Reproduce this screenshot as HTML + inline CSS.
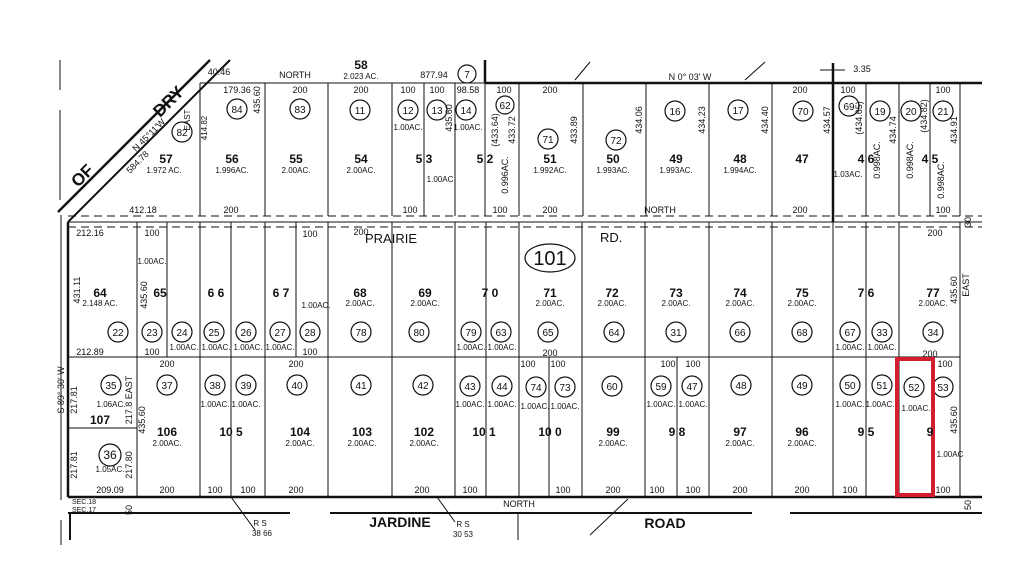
<!DOCTYPE html>
<html><head><meta charset="utf-8"><style>
html,body{margin:0;padding:0;background:#fff}
svg{display:block}
text{font-family:"Liberation Sans",Arial,sans-serif;fill:#111}
.n{font-size:12px;font-weight:bold;text-anchor:middle}
.a{font-size:8px;text-anchor:middle}
.d{font-size:9px;text-anchor:middle}
.s{font-size:5px;text-anchor:middle}
.c{font-size:10px;text-anchor:middle}
</style></head><body>
<svg width="1024" height="586" viewBox="0 0 1024 586" xmlns="http://www.w3.org/2000/svg">
<rect width="1024" height="586" fill="#fff"/>
<g stroke="#111" fill="none">
<line x1="58" y1="212" x2="210" y2="60" stroke-width="2.5"/>
<line x1="68" y1="222" x2="230" y2="60" stroke-width="2"/>
<line x1="60" y1="60" x2="60" y2="90" stroke-width="1"/>
<line x1="60" y1="110" x2="60" y2="200" stroke-width="1"/>
<line x1="61" y1="215" x2="61" y2="500" stroke-width="1"/>
<line x1="61" y1="520" x2="61" y2="545" stroke-width="1"/>
<line x1="200" y1="83" x2="485" y2="83" stroke-width="1"/>
<line x1="485" y1="83" x2="982" y2="83" stroke-width="2.5"/>
<line x1="485" y1="60" x2="485" y2="83" stroke-width="2.5"/>
<line x1="833" y1="63" x2="833" y2="222" stroke-width="2.5"/>
<line x1="820" y1="70" x2="845" y2="70" stroke-width="1"/>
<line x1="68" y1="216" x2="982" y2="216" stroke-width="1" stroke-dasharray="8,5"/>
<line x1="68" y1="222" x2="982" y2="222" stroke-width="1"/>
<line x1="68" y1="227" x2="982" y2="227" stroke-width="1" stroke-dasharray="8,5"/>
<path d="M200 83V216 M265 83V216 M328 83V216 M392 83V216 M424 83V216 M455 83V216 M485 83V216 M519 83V216 M583 83V216 M646 83V216 M709 83V216 M772 83V216 M866 83V216 M899 83V216 M930 83V216 M960 83V216" stroke-width="1"/>
<line x1="68" y1="222" x2="68" y2="497" stroke-width="2.5"/>
<line x1="68" y1="357" x2="960" y2="357" stroke-width="1"/>
<path d="M137 222V497 M167 222V357 M200 222V497 M231 222V497 M265 222V497 M296 222V357 M328 222V497 M392 222V497 M455 222V497 M486 222V497 M519 222V497 M549 357V497 M582 222V497 M645 222V497 M677 357V497 M709 222V497 M772 222V497 M833 222V497 M866 222V497 M899 222V497 M960 222V497" stroke-width="1"/>
<line x1="68" y1="428" x2="137" y2="428" stroke-width="1"/>
<line x1="68" y1="497" x2="982" y2="497" stroke-width="2.5"/>
<line x1="68" y1="513" x2="290" y2="513" stroke-width="2"/>
<line x1="330" y1="513" x2="752" y2="513" stroke-width="2"/>
<line x1="790" y1="513" x2="982" y2="513" stroke-width="2"/>
<line x1="70" y1="513" x2="70" y2="540" stroke-width="2"/>
<line x1="518" y1="513" x2="518" y2="540" stroke-width="1"/>
<line x1="231" y1="497" x2="255" y2="530" stroke-width="1"/>
<line x1="437" y1="497" x2="455" y2="522" stroke-width="1"/>
<line x1="628" y1="499" x2="590" y2="535" stroke-width="1"/>
<line x1="575" y1="80" x2="590" y2="62" stroke-width="1"/>
<line x1="745" y1="80" x2="765" y2="62" stroke-width="1"/>
<g stroke-width="1.2">
<circle cx="182" cy="132" r="10"/><circle cx="237" cy="109" r="10"/><circle cx="300" cy="109" r="10"/><circle cx="360" cy="110" r="10"/>
<circle cx="408" cy="110" r="10"/><circle cx="437" cy="110" r="10"/><circle cx="466" cy="110" r="10"/><circle cx="505" cy="105" r="9"/>
<circle cx="548" cy="139" r="10"/><circle cx="616" cy="140" r="10"/><circle cx="675" cy="111" r="10"/><circle cx="738" cy="110" r="10"/>
<circle cx="803" cy="111" r="10"/><circle cx="849" cy="106" r="10"/><circle cx="880" cy="111" r="10"/><circle cx="911" cy="111" r="10"/><circle cx="943" cy="111" r="10"/>
<circle cx="467" cy="74" r="9"/>
<ellipse cx="550" cy="258" rx="25" ry="14"/>
<circle cx="118" cy="332" r="10"/><circle cx="152" cy="332" r="10"/><circle cx="182" cy="332" r="10"/><circle cx="214" cy="332" r="10"/><circle cx="246" cy="332" r="10"/><circle cx="280" cy="332" r="10"/><circle cx="310" cy="332" r="10"/><circle cx="361" cy="332" r="10"/><circle cx="419" cy="332" r="10"/><circle cx="471" cy="332" r="10"/><circle cx="501" cy="332" r="10"/><circle cx="548" cy="332" r="10"/><circle cx="614" cy="332" r="10"/><circle cx="676" cy="332" r="10"/><circle cx="740" cy="332" r="10"/><circle cx="802" cy="332" r="10"/><circle cx="850" cy="332" r="10"/><circle cx="882" cy="332" r="10"/><circle cx="933" cy="332" r="10"/>
<circle cx="111" cy="385" r="10"/><circle cx="167" cy="385" r="10"/><circle cx="215" cy="385" r="10"/><circle cx="246" cy="385" r="10"/><circle cx="297" cy="385" r="10"/><circle cx="361" cy="385" r="10"/><circle cx="423" cy="385" r="10"/><circle cx="470" cy="386" r="10"/><circle cx="502" cy="386" r="10"/><circle cx="536" cy="387" r="10"/><circle cx="565" cy="387" r="10"/><circle cx="612" cy="386" r="10"/><circle cx="661" cy="386" r="10"/><circle cx="692" cy="386" r="10"/><circle cx="741" cy="385" r="10"/><circle cx="802" cy="385" r="10"/><circle cx="850" cy="385" r="10"/><circle cx="882" cy="385" r="10"/><circle cx="914" cy="387" r="10"/><circle cx="943" cy="387" r="10"/>
<circle cx="110" cy="455" r="11"/>
</g>
</g>
<rect x="897" y="359" width="36" height="136" fill="none" stroke="#d21f30" stroke-width="4"/>
<text x="78" y="188" font-size="17" font-weight="bold" transform="rotate(-45 78 188)">OF</text>
<text x="160" y="118" font-size="17" font-weight="bold" transform="rotate(-45 160 118)">DRY</text>
<text x="136" y="152" font-size="9" transform="rotate(-45 136 152)">N 45°11'W</text>
<text x="130" y="174" font-size="9" transform="rotate(-45 130 174)">584.78</text>
<text x="190" y="120" class="a" transform="rotate(-90 190 120)">EAST</text>
<text x="207" y="128" class="a" transform="rotate(-90 207 128)">414.82</text>
<text x="260" y="100" class="d" transform="rotate(-90 260 100)">435.60</text>
<text x="219" y="75" class="d">40.46</text>
<text x="295" y="78" class="d">NORTH</text>
<text x="361" y="69" class="n">58</text><text x="361" y="79" class="a">2.023 AC.</text>
<text x="434" y="78" class="d">877.94</text>
<text x="690" y="80" class="d">N 0° 03' W</text>
<text x="862" y="72" class="d">3.35</text>
<g class="d">
<text x="237" y="93">179.36</text><text x="300" y="93">200</text><text x="361" y="93">200</text><text x="408" y="93">100</text><text x="437" y="93">100</text><text x="468" y="93">98.58</text><text x="504" y="93">100</text><text x="550" y="93">200</text><text x="800" y="93">200</text><text x="848" y="93">100</text><text x="943" y="93">100</text>
<text x="143" y="213">412.18</text><text x="231" y="213">200</text><text x="410" y="213">100</text><text x="500" y="213">100</text><text x="550" y="213">200</text><text x="660" y="213">NORTH</text><text x="800" y="213">200</text><text x="943" y="213">100</text>
</g>
<g class="c">
<text x="182" y="136">82</text><text x="237" y="113">84</text><text x="300" y="113">83</text><text x="360" y="114">11</text><text x="408" y="114">12</text><text x="437" y="114">13</text><text x="466" y="114">14</text><text x="505" y="109">62</text><text x="467" y="78">7</text>
<text x="548" y="143">71</text><text x="616" y="144">72</text><text x="675" y="115">16</text><text x="738" y="114">17</text><text x="803" y="115">70</text><text x="849" y="110">69</text><text x="880" y="115">19</text><text x="911" y="115">20</text><text x="943" y="115">21</text>
</g>
<g class="n">
<text x="166" y="163">57</text><text x="232" y="163">56</text><text x="296" y="163">55</text><text x="361" y="163">54</text><text x="424" y="163">5 3</text><text x="485" y="163">5 2</text><text x="550" y="163">51</text><text x="613" y="163">50</text><text x="676" y="163">49</text><text x="740" y="163">48</text><text x="802" y="163">47</text><text x="866" y="163">4 6</text><text x="930" y="163">4 5</text>
</g>
<g class="a">
<text x="164" y="173">1.972 AC.</text><text x="232" y="173">1.996AC.</text><text x="296" y="173">2.00AC.</text><text x="361" y="173">2.00AC.</text><text x="408" y="130">1.00AC.</text><text x="440" y="182">1.00AC</text><text x="468" y="130">1.00AC.</text><text x="550" y="173">1.992AC.</text><text x="613" y="173">1.993AC.</text><text x="676" y="173">1.993AC.</text><text x="740" y="173">1.994AC.</text><text x="848" y="177">1.03AC.</text>
</g>
<g class="d">
<text x="452" y="118" transform="rotate(-90 452 118)">435.60</text>
<text x="498" y="130" transform="rotate(-90 498 130)">(433.64)</text>
<text x="515" y="130" transform="rotate(-90 515 130)">433.72</text>
<text x="577" y="130" transform="rotate(-90 577 130)">433.89</text>
<text x="642" y="120" transform="rotate(-90 642 120)">434.06</text>
<text x="705" y="120" transform="rotate(-90 705 120)">434.23</text>
<text x="768" y="120" transform="rotate(-90 768 120)">434.40</text>
<text x="830" y="120" transform="rotate(-90 830 120)">434.57</text>
<text x="862" y="118" transform="rotate(-90 862 118)">(434.65)</text>
<text x="896" y="130" transform="rotate(-90 896 130)">434.74</text>
<text x="927" y="116" transform="rotate(-90 927 116)">(434.82)</text>
<text x="957" y="130" transform="rotate(-90 957 130)">434.91</text>
<text x="508" y="175" transform="rotate(-90 508 175)">0.996AC.</text>
<text x="880" y="160" transform="rotate(-90 880 160)">0.998AC.</text>
<text x="913" y="160" transform="rotate(-90 913 160)">0.998AC.</text>
<text x="944" y="180" transform="rotate(-90 944 180)">0.998AC.</text>
</g>
<text x="365" y="243" font-size="13">PRAIRIE</text>
<text x="600" y="242" font-size="13">RD.</text>
<text x="550" y="265" font-size="20" text-anchor="middle">101</text>
<g class="d">
<text x="90" y="236">212.16</text><text x="152" y="236">100</text><text x="310" y="237">100</text><text x="361" y="235">200</text><text x="935" y="236">200</text>
<text x="90" y="355">212.89</text><text x="152" y="355">100</text><text x="310" y="355">100</text><text x="550" y="356">200</text><text x="167" y="367">200</text><text x="296" y="367">200</text><text x="930" y="357">200</text>
<text x="528" y="367">100</text><text x="558" y="367">100</text><text x="668" y="367">100</text><text x="693" y="367">100</text><text x="945" y="367">100</text>
<text x="80" y="290" transform="rotate(-90 80 290)">431.11</text>
<text x="147" y="295" transform="rotate(-90 147 295)">435.60</text>
<text x="957" y="290" transform="rotate(-90 957 290)">435.60</text>
<text x="969" y="285" transform="rotate(-90 969 285)">EAST</text>
<text x="64" y="390" transform="rotate(-90 64 390)">S 89° 30' W</text>
<text x="77" y="400" transform="rotate(-90 77 400)">217.81</text>
<text x="77" y="465" transform="rotate(-90 77 465)">217.81</text>
<text x="132" y="400" transform="rotate(-90 132 400)">217.8 EAST</text>
<text x="132" y="465" transform="rotate(-90 132 465)">217.80</text>
<text x="145" y="420" transform="rotate(-90 145 420)">435.60</text>
<text x="957" y="420" transform="rotate(-90 957 420)">435.60</text>
</g>
<g class="n">
<text x="100" y="297">64</text><text x="160" y="297">65</text><text x="216" y="297">6 6</text><text x="281" y="297">6 7</text><text x="360" y="297">68</text><text x="425" y="297">69</text><text x="490" y="297">7 0</text><text x="550" y="297">71</text><text x="612" y="297">72</text><text x="676" y="297">73</text><text x="740" y="297">74</text><text x="802" y="297">75</text><text x="866" y="297">7 6</text><text x="933" y="297">77</text>
<text x="100" y="424">107</text>
<text x="167" y="436">106</text><text x="231" y="436">10 5</text><text x="300" y="436">104</text><text x="362" y="436">103</text><text x="424" y="436">102</text><text x="484" y="436">10 1</text><text x="550" y="436">10 0</text><text x="613" y="436">99</text><text x="677" y="436">9 8</text><text x="740" y="436">97</text><text x="802" y="436">96</text><text x="866" y="436">9 5</text><text x="930" y="436">9</text>
</g>
<g class="a">
<text x="100" y="306">2.148 AC.</text><text x="360" y="306">2.00AC.</text><text x="425" y="306">2.00AC.</text><text x="550" y="306">2.00AC.</text><text x="612" y="306">2.00AC.</text><text x="676" y="306">2.00AC.</text><text x="740" y="306">2.00AC.</text><text x="802" y="306">2.00AC.</text><text x="933" y="306">2.00AC.</text>
<text x="152" y="264">1.00AC.</text><text x="316" y="308">1.00AC.</text>
<text x="184" y="350">1.00AC.</text><text x="216" y="350">1.00AC.</text><text x="248" y="350">1.00AC.</text><text x="280" y="350">1.00AC.</text><text x="471" y="350">1.00AC.</text><text x="502" y="350">1.00AC.</text><text x="850" y="350">1.00AC.</text><text x="882" y="350">1.00AC.</text>
<text x="111" y="407">1.06AC.</text><text x="110" y="472">1.05AC.</text>
<text x="215" y="407">1.00AC.</text><text x="246" y="407">1.00AC.</text><text x="470" y="407">1.00AC.</text><text x="502" y="407">1.00AC.</text><text x="535" y="409">1.00AC.</text><text x="565" y="409">1.00AC.</text><text x="661" y="407">1.00AC.</text><text x="693" y="407">1.00AC.</text><text x="850" y="407">1.00AC.</text><text x="880" y="407">1.00AC.</text><text x="916" y="411">1.00AC.</text><text x="950" y="457">1.00AC</text>
<text x="167" y="446">2.00AC.</text><text x="300" y="446">2.00AC.</text><text x="362" y="446">2.00AC.</text><text x="424" y="446">2.00AC.</text><text x="613" y="446">2.00AC.</text><text x="740" y="446">2.00AC.</text><text x="802" y="446">2.00AC.</text>
</g>
<g class="c">
<text x="118" y="336">22</text><text x="152" y="336">23</text><text x="182" y="336">24</text><text x="214" y="336">25</text><text x="246" y="336">26</text><text x="280" y="336">27</text><text x="310" y="336">28</text><text x="361" y="336">78</text><text x="419" y="336">80</text><text x="471" y="336">79</text><text x="501" y="336">63</text><text x="548" y="336">65</text><text x="614" y="336">64</text><text x="676" y="336">31</text><text x="740" y="336">66</text><text x="802" y="336">68</text><text x="850" y="336">67</text><text x="882" y="336">33</text><text x="933" y="336">34</text>
<text x="111" y="389">35</text><text x="167" y="389">37</text><text x="215" y="389">38</text><text x="246" y="389">39</text><text x="297" y="389">40</text><text x="361" y="389">41</text><text x="423" y="389">42</text><text x="470" y="390">43</text><text x="502" y="390">44</text><text x="536" y="391">74</text><text x="565" y="391">73</text><text x="612" y="390">60</text><text x="661" y="390">59</text><text x="692" y="390">47</text><text x="741" y="389">48</text><text x="802" y="389">49</text><text x="850" y="389">50</text><text x="882" y="389">51</text><text x="914" y="391">52</text><text x="943" y="391">53</text>
<text x="110" y="459" font-size="12">36</text>
</g>
<g class="d">
<text x="110" y="493">209.09</text><text x="167" y="493">200</text><text x="215" y="493">100</text><text x="248" y="493">100</text><text x="296" y="493">200</text><text x="422" y="493">200</text><text x="470" y="493">100</text><text x="563" y="493">100</text><text x="613" y="493">200</text><text x="657" y="493">100</text><text x="693" y="493">100</text><text x="740" y="493">200</text><text x="802" y="493">200</text><text x="850" y="493">100</text><text x="943" y="493">100</text>
<text x="519" y="507">NORTH</text>
<text x="84" y="504" font-size="7">SEC.18</text><text x="84" y="512" font-size="7">SEC.17</text>
<text x="132" y="510" transform="rotate(-90 132 510)">50</text>
<text x="971" y="505" transform="rotate(-90 971 505)">50</text>
<text x="971" y="222" transform="rotate(-90 971 222)">30</text>
</g>
<text x="400" y="527" font-size="14" font-weight="bold" text-anchor="middle">JARDINE</text>
<text x="665" y="528" font-size="14" font-weight="bold" text-anchor="middle">ROAD</text>
<text x="260" y="526" class="a">R S</text><text x="262" y="536" class="a">38 66</text>
<text x="463" y="527" class="a">R S</text><text x="463" y="537" class="a">30 53</text>
</svg>
</body></html>
